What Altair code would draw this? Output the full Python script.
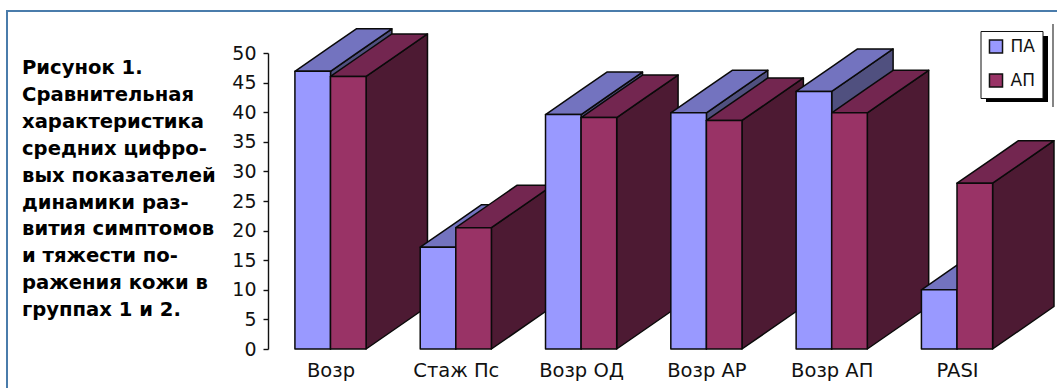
import altair as alt
import pandas as pd

# Mean values per indicator for the two patient groups
categories = ["Возр", "Стаж Пс", "Возр ОД", "Возр АР", "Возр АП", "PASI"]
pa_values = [46.9, 17.2, 39.6, 39.9, 43.5, 10.0]
ap_values = [46.05, 20.5, 39.1, 38.6, 39.9, 28.0]
series_names = ["ПА", "АП"]
caption_lines = [
    "Рисунок 1.",
    "Сравнительная",
    "характеристика",
    "средних цифро-",
    "вых показателей",
    "динамики раз-",
    "вития симптомов",
    "и тяжести по-",
    "ражения кожи в",
    "группах 1 и 2.",
]

FONT = "DejaVu Sans"
BAR_W = 0.284      # bar width, in category units
DEPTH_X = 0.49     # horizontal extrusion of the 3D boxes, in category units
DEPTH_Y = 7.18     # vertical extrusion of the 3D boxes, in value units


def box_faces(group, series, left, value):
    """Area rows (x, y, y2) for the side, top and front faces of one 3D bar."""
    key = f"{group}-{series}"
    right = left + BAR_W
    rows = []

    def add(face, name, pts):
        for x, lo, hi in pts:
            rows.append({"poly": f"{key}-{face}", "face": name, "x": x, "y": lo, "y2": hi})

    add("side", f"{series} бок", [
        (right, 0, value),
        (right + DEPTH_X, DEPTH_Y, value + DEPTH_Y),
    ])
    # A parallelogram with horizontal edges needs its two inner corners too
    if BAR_W >= DEPTH_X:
        inner = [(left + DEPTH_X, value, value + DEPTH_Y), (right, value, value + DEPTH_Y)]
    else:
        mid = value + DEPTH_Y * BAR_W / DEPTH_X
        inner = [(right, value, mid), (left + DEPTH_X, value + DEPTH_Y - (mid - value), value + DEPTH_Y)]
    add("top", f"{series} верх", [(left, value, value)] + inner + [
        (right + DEPTH_X, value + DEPTH_Y, value + DEPTH_Y),
    ])
    add("front", series, [(left, 0, value), (right, 0, value)])
    return rows


rows = []
for i, (pa, ap) in enumerate(zip(pa_values, ap_values)):
    rows += box_faces(i, "ПА", i - BAR_W, pa)
    rows += box_faces(i, "АП", i, ap)
faces = pd.DataFrame(rows)

face_domain = ["ПА", "АП", "ПА верх", "ПА бок", "АП верх", "АП бок"]
face_range = ["#9999FF", "#993366", "#7373BF", "#50507F", "#732650", "#4D1A33"]

labels_expr = "[" + ",".join(f"'{c}'" for c in categories) + "][datum.value]"

x_enc = alt.X(
    "x:Q",
    scale=alt.Scale(domain=[-0.4988, 5.798], nice=False, zero=False),
    axis=alt.Axis(
        values=list(range(len(categories))),
        labelExpr=labels_expr,
        domain=False,
        ticks=False,
        grid=False,
        title=None,
        labelFont=FONT,
        labelFontSize=19.5,
        labelColor="#111111",
        labelPadding=12,
        labelFlush=False,
        labelOverlap=False,
        labelAngle=0,
    ),
)
y_enc = alt.Y(
    "y:Q",
    scale=alt.Scale(domain=[0, 50], nice=False, zero=False),
    axis=alt.Axis(
        values=list(range(0, 51, 5)),
        grid=False,
        title=None,
        domainColor="#111111",
        domainWidth=1.4,
        tickColor="#111111",
        tickWidth=1.4,
        tickSize=5,
        labelFont=FONT,
        labelFontSize=19,
        labelColor="#111111",
        labelPadding=7,
    ),
)

bars = alt.Chart(faces).mark_area(
    stroke="#0a0a0a", strokeWidth=1.5, strokeJoin="round", opacity=1
).encode(
    x=x_enc,
    y=y_enc,
    y2="y2:Q",
    detail="poly:N",
    fill=alt.Fill(
        "face:N",
        scale=alt.Scale(domain=face_domain, range=face_range),
        legend=alt.Legend(
            values=series_names,
            orient="none",
            legendX=712.5,
            legendY=-22,
            title=None,
            fillColor="white",
            strokeColor="#111111",
            padding=7,
            symbolType="square",
            symbolSize=170,
            symbolStrokeColor="#111111",
            symbolStrokeWidth=1.5,
            labelFont=FONT,
            labelFontSize=17,
            labelColor="#111111",
            labelOffset=6,
            rowPadding=13,
        ),
    ),
)

one_row = alt.Data(values=[{"k": 1}])

# Blue frame along the left and top edges of the figure
frame_left = alt.Chart(one_row).mark_rule(color="#4A7CAB", strokeWidth=2).encode(
    x=alt.value(-261), y=alt.value(-42), y2=alt.value(335)
)
frame_top = alt.Chart(one_row).mark_rule(color="#4A7CAB", strokeWidth=2).encode(
    x=alt.value(-262), x2=alt.value(789), y=alt.value(-42)
)

# Hard drop shadow behind the legend box
legend_shadow = alt.Chart(one_row).mark_rect(color="black").encode(
    x=alt.value(718), x2=alt.value(780), y=alt.value(-17), y2=alt.value(49)
)
legend_rule = alt.Chart(one_row).mark_rule(color="#333333", strokeWidth=1.2).encode(
    x=alt.value(785), y=alt.value(-29), y2=alt.value(54)
)

caption = alt.Chart(one_row).mark_text(
    text=caption_lines,
    font=FONT,
    fontWeight="bold",
    fontSize=19.6,
    lineHeight=26.9,
    align="left",
    baseline="alphabetic",
    color="black",
).encode(x=alt.value(-246), y=alt.value(21))

chart = alt.layer(frame_left, frame_top, legend_shadow, legend_rule, bars, caption).properties(
    width=789,
    height=296,
    padding={"left": 268, "top": 53, "right": 0, "bottom": 39},
    autosize=alt.AutoSizeParams(type="none"),
    background="white",
).configure_view(stroke=None)

chart.save("out.html", embed_options={"renderer": "svg", "actions": False})
